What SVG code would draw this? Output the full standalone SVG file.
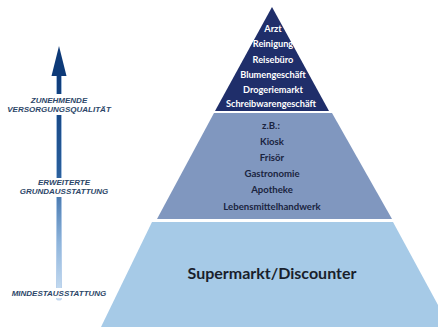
<svg xmlns="http://www.w3.org/2000/svg" width="438" height="327" viewBox="0 0 438 327">
<defs>
<linearGradient id="shaft" x1="0" y1="0" x2="0" y2="1">
<stop offset="0" stop-color="#0d3a78"/>
<stop offset="0.45" stop-color="#2a5f9c"/>
<stop offset="0.75" stop-color="#8fb5dc"/>
<stop offset="1" stop-color="#cfe2f4"/>
</linearGradient>
<style>
.lbl{font-family:"Liberation Sans",Arial,sans-serif;font-weight:bold;font-style:italic;font-size:8px;fill:#2c4668;text-anchor:middle}
.top{font-family:Lato,"Open Sans",sans-serif;font-weight:bold;font-size:9.2px;fill:#ffffff;text-anchor:middle}
.mid{font-family:Lato,"Open Sans",sans-serif;font-weight:bold;font-size:9.6px;fill:#1a2440;text-anchor:middle}
.big{font-family:Lato,"Open Sans",sans-serif;font-weight:bold;font-size:16px;fill:#1a1f2c;text-anchor:middle}
</style>
</defs>
<rect width="438" height="327" fill="#ffffff"/>
<g id="connectors">
<rect x="56.5" y="72" width="5" height="228" rx="1.5" fill="url(#shaft)" stroke="#a9c6e6" stroke-width="0.7"/>
<polygon points="59,46 66.5,76 51.5,76" fill="#0d3a78"/>
<rect x="0" y="94" width="120" height="21" fill="#ffffff"/>
<rect x="8" y="178" width="112" height="19" fill="#ffffff"/>
<rect x="8" y="288" width="104" height="10" fill="#ffffff"/>
</g>
<g id="label-zunehmende">
<text class="lbl" x="59" y="103">ZUNEHMENDE</text>
<text class="lbl" x="59" y="112">VERSORGUNGSQUALITÄT</text>
</g>
<g id="label-erweiterte">
<text class="lbl" x="64" y="185">ERWEITERTE</text>
<text class="lbl" x="64" y="194">GRUNDAUSSTATTUNG</text>
</g>
<g id="label-mindest">
<text class="lbl" x="59" y="296">MINDESTAUSSTATTUNG</text>
</g>
<g id="tier-top">
<polygon points="272,7 329,111 215,111" fill="#1f2e6a"/>
<text class="top" x="273" y="32">Arzt</text>
<text class="top" x="273" y="47">Reinigung</text>
<text class="top" x="273" y="63">Reisebüro</text>
<text class="top" x="273" y="78">Blumengeschäft</text>
<text class="top" x="273" y="93">Drogeriemarkt</text>
<text class="top" x="271" y="107">Schreibwarengeschäft</text>
</g>
<g id="tier-middle">
<polygon points="214,113 332,113 392,219 157,219" fill="#8097bf"/>
<text class="mid" x="271" y="129">z.B.:</text>
<text class="mid" x="272" y="145">Kiosk</text>
<text class="mid" x="272" y="161">Frisör</text>
<text class="mid" x="272" y="177">Gastronomie</text>
<text class="mid" x="272" y="193">Apotheke</text>
<text class="mid" x="272" y="210">Lebensmittelhandwerk</text>
</g>
<g id="tier-bottom">
<polygon points="152,222 393,222 450,327 101,327" fill="#a6cae7"/>
<text class="big" x="272" y="279">Supermarkt/Discounter</text>
</g>
</svg>
